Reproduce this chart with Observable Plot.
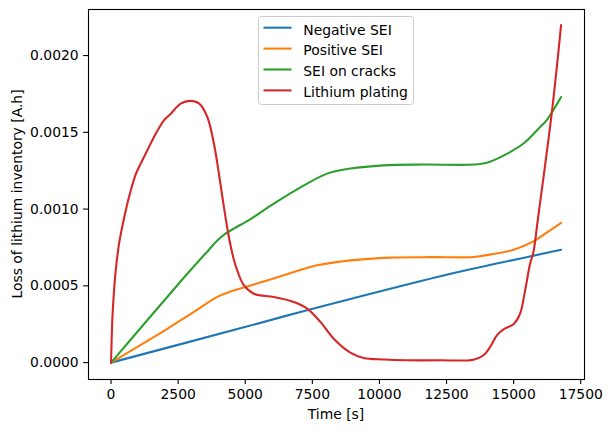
<!DOCTYPE html>
<html><head><meta charset="utf-8">
<script src="https://cdn.jsdelivr.net/npm/d3@7"></script>
<script src="https://cdn.jsdelivr.net/npm/@observablehq/plot@0.6"></script>
<style>body{margin:0;background:white;} #chart svg{display:block;}</style>
</head><body><div id="chart"></div>
<script>
const seriesNames = ["Negative SEI", "Positive SEI", "SEI on cracks", "Lithium plating"];
const seriesColors = ["#1f77b4", "#ff7f0e", "#2ca02c", "#d62728"];

const negTime  = [0, 4948, 7057, 8917, 12388, 14500, 16767];
const negValue = [0, 0.000230, 0.000330, 0.000415, 0.000568, 0.000650, 0.000735];

const posTime  = [0, 2050, 2470, 3214, 3958, 4400, 4948, 6436, 7679, 8917, 10406, 12000, 13504, 14249, 14993, 15737, 16358, 16767];
const posValue = [0, 0.000215, 0.000262, 0.000345, 0.000428, 0.000460, 0.000489, 0.000569, 0.000634, 0.000666, 0.000684, 0.000687, 0.000688, 0.000708, 0.000735, 0.000790, 0.000862, 0.000910];

const crackTime  = [0, 2470, 2965, 3646, 3958, 4250, 4576, 5197, 6064, 7307, 8051, 8917, 10156, 11645, 13504, 14003, 14747, 15365, 15986, 16235, 16767];
const crackValue = [0, 0.000504, 0.000603, 0.000735, 0.000795, 0.000838, 0.000873, 0.000935, 0.001036, 0.001166, 0.001231, 0.001264, 0.001285, 0.001290, 0.001290, 0.001302, 0.001360, 0.001427, 0.001535, 0.001580, 0.001730];

const platTime  = [0, 52, 112, 175, 298, 484, 670, 919, 1105, 1354, 1600, 1972, 2221, 2593, 2939, 3274, 3586, 3832, 4018, 4204, 4390, 4576, 4702, 4948, 5320, 6064, 6808, 7307, 7801, 8296, 8917, 9412, 10156, 11027, 12266, 13504, 13876, 14126, 14375, 14621, 14993, 15242, 15428, 15614, 15737, 15900, 16443, 16767];
const platValue = [0, 0.000297, 0.000471, 0.000601, 0.000775, 0.000940, 0.001079, 0.001226, 0.001296, 0.001383, 0.001470, 0.001578, 0.001620, 0.001687, 0.001705, 0.001688, 0.001600, 0.001427, 0.001231, 0.001014, 0.000818, 0.000670, 0.000600, 0.000504, 0.000449, 0.000427, 0.000395, 0.000352, 0.000265, 0.000156, 0.000065, 0.000030, 0.000020, 0.000015, 0.000015, 0.000019, 0.000048, 0.000102, 0.000178, 0.000217, 0.000250, 0.000320, 0.000471, 0.000645, 0.000720, 0.000930, 0.001660, 0.002198];

const xTicks = [0, 2500, 5000, 7500, 10000, 12500, 15000, 17500];
const yTicks = [0, 0.0005, 0.0010, 0.0015, 0.0020];
const xLabel = "Time [s]";
const yLabel = "Loss of lithium inventory [A.h]";

const allTimes = [negTime, posTime, crackTime, platTime];
const allValues = [negValue, posValue, crackValue, platValue];
const data = [];
seriesNames.forEach((name, i) => {
  allTimes[i].forEach((t, j) => data.push({series: name, t, v: allValues[i][j]}));
});

const W = 611, H = 432;
const font = "DejaVu Sans, sans-serif";
const plot = Plot.plot({
  width: W, height: H,
  marginLeft: 88, marginRight: 27, marginTop: 9, marginBottom: 53,
  style: {fontFamily: font, fontSize: "13.9px", background: "white", color: "black"},
  x: {domain: [-840, 17640], label: null},
  y: {domain: [-0.00011, 0.0023], label: null},
  color: {domain: seriesNames, range: seriesColors},
  marks: [
    Plot.axisX({ticks: xTicks, tickFormat: d => String(d), tickSize: 4.9, tickPadding: 4.9, fontSize: 13.9, strokeWidth: 1.1}),
    Plot.axisY({ticks: yTicks, tickFormat: d3.format(".4f"), tickSize: 4.9, tickPadding: 4.9, fontSize: 13.9, strokeWidth: 1.1}),
    Plot.line(data, {x: "t", y: "v", z: "series", stroke: "series", strokeWidth: 2.1, curve: "catmull-rom"}),
    Plot.frame({stroke: "black", strokeWidth: 1.1})
  ]
});
document.getElementById("chart").appendChild(plot);

const svg = d3.select(plot);
svg.append("text").attr("x", 336).attr("y", 419).attr("text-anchor", "middle")
  .attr("font-family", font).attr("font-size", 13.9).attr("fill", "black").text(xLabel);
svg.append("text").attr("transform", "translate(22,194) rotate(-90)").attr("text-anchor", "middle")
  .attr("font-family", font).attr("font-size", 13.9).attr("fill", "black").text(yLabel);

const lg = svg.append("g").attr("text-anchor", "start");
lg.append("rect").attr("x", 258.5).attr("y", 16.5).attr("width", 155).attr("height", 88).attr("rx", 3)
  .attr("fill", "white").attr("fill-opacity", 0.8).attr("stroke", "#cccccc").attr("stroke-width", 1);
seriesNames.forEach((name, i) => {
  const cy = 27.7 + i * 20.9;
  lg.append("line").attr("x1", 263.5).attr("x2", 291.5).attr("y1", cy).attr("y2", cy)
    .attr("stroke", seriesColors[i]).attr("stroke-width", 2.1);
  lg.append("text").attr("x", 303.3).attr("y", cy + 6.8).attr("text-anchor", "start").attr("font-family", font).attr("font-size", 13.9)
    .attr("fill", "black").text(name);
});
</script>
</body></html>
